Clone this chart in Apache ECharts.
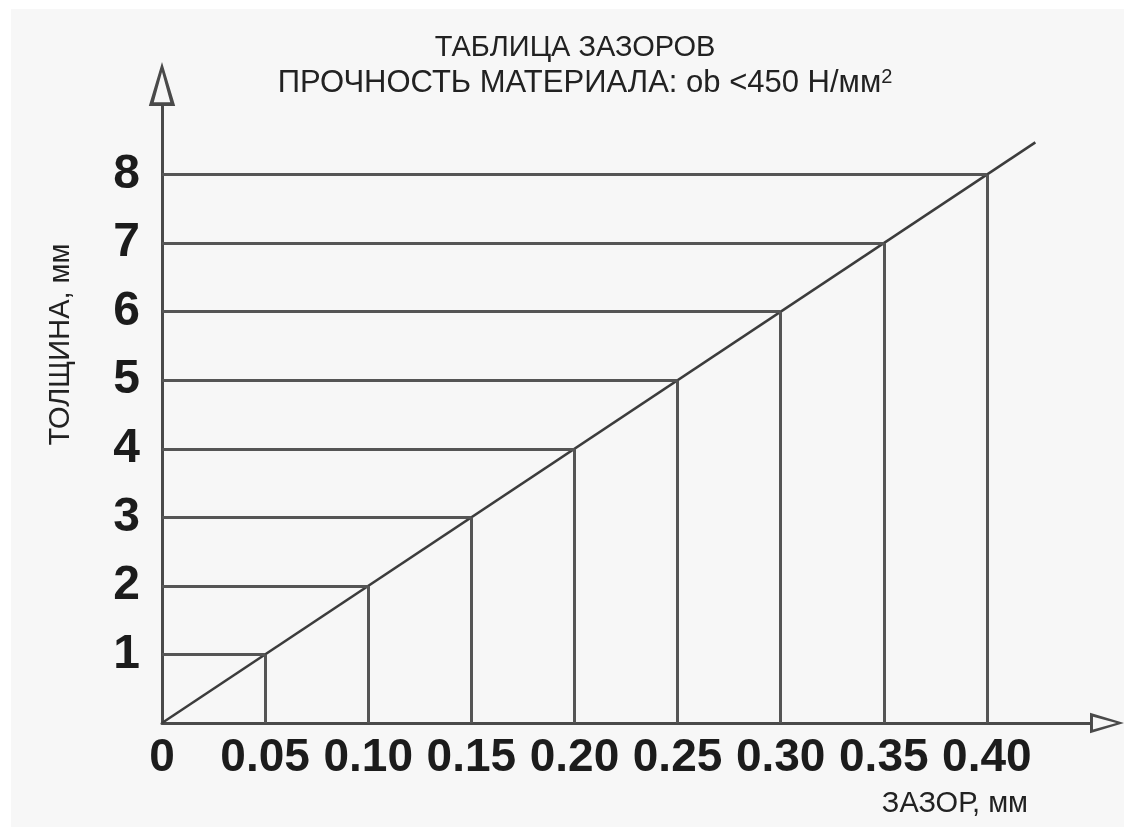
<!DOCTYPE html>
<html>
<head>
<meta charset="utf-8">
<script src="https://cdn.jsdelivr.net/npm/echarts@6/dist/echarts.min.js"></script>
<style>
  html, body { margin: 0; padding: 0; }
  body {
    background:
      linear-gradient(#fff, #fff) top left / 100% 9px no-repeat,
      linear-gradient(#fff, #fff) top left / 11px 100% no-repeat,
      #f7f7f7;
  }
  #clearance-chart { width: 1124px; height: 827px; }
</style>
</head>
<body>
<div id="clearance-chart"></div>
<script>
// зазор (мм) для каждой толщины листа
const gaps = [0.05, 0.10, 0.15, 0.20, 0.25, 0.30, 0.35, 0.40]
const thickness = [1, 2, 3, 4, 5, 6, 7, 8]
// диагональ идёт из нуля и чуть дальше последней точки
const lineStart = [0, 0]
const lineEnd = [0.4235, 8.47]
const xTicks = ['0', '0.05', '0.10', '0.15', '0.20', '0.25', '0.30', '0.35', '0.40']
const yTicks = [1, 2, 3, 4, 5, 6, 7, 8]

const arrow = 'path://M12,0 L24,40 L0,40 Z M12,9 L4.5,36.5 L19.5,36.5 Z'

const dropLines = []
gaps.forEach((g, i) => {
  const t = thickness[i]
  dropLines.push([{ coord: [0, t] }, { coord: [g, t] }])
  dropLines.push([{ coord: [g, 0] }, { coord: [g, t] }])
})

const tickFont = {
  fontFamily: '"Liberation Sans", Arial, sans-serif',
  fontWeight: 'bold',
  color: '#1c1c1c'
}

const option = {
  animation: false,
  title: [
    {
      text: 'ТАБЛИЦА ЗАЗОРОВ',
      left: 570,
      top: 28,
      textAlign: 'center',
      textStyle: { fontFamily: '"Liberation Sans", Arial', fontWeight: 'normal', fontSize: 29, color: '#222' }
    },
    {
      text: 'ПРОЧНОСТЬ МАТЕРИАЛА: ob <450 Н/мм{sup|2}',
      left: 580,
      top: 62,
      textAlign: 'center',
      textStyle: {
        fontFamily: '"Liberation Sans", Arial',
        fontWeight: 'normal',
        fontSize: 31,
        color: '#222',
        rich: {
          sup: { fontFamily: '"Liberation Sans", Arial', fontSize: 20, color: '#222', verticalAlign: 'top', lineHeight: 32 }
        }
      }
    }
  ],
  grid: {
    left: 162,
    right: 34,
    top: 106,
    bottom: 104
  },
  xAxis: {
    type: 'value',
    min: 0,
    max: 0.45,
    interval: 0.05,
    name: 'ЗАЗОР, мм',
    nameLocation: 'end',
    nameGap: -62,
    nameTextStyle: {
      fontFamily: '"Liberation Sans", Arial',
      fontSize: 29,
      color: '#222',
      align: 'right',
      verticalAlign: 'top',
      padding: [66, 0, 0, 0]
    },
    axisLine: {
      lineStyle: { color: '#4a4a4a', width: 3 },
      symbol: ['none', arrow],
      symbolSize: [24, 34],
      symbolOffset: [0, 17]
    },
    axisTick: { show: false },
    splitLine: { show: false },
    axisLabel: {
      ...tickFont,
      fontSize: 46,
      margin: 12,
      formatter: v => {
        const i = Math.round(v / 0.05)
        return v > 0.401 ? '' : xTicks[i]
      }
    }
  },
  yAxis: {
    type: 'value',
    min: 0,
    max: 9,
    interval: 1,
    name: 'ТОЛЩИНА, мм',
    nameLocation: 'middle',
    nameGap: 87,
    nameRotate: 90,
    nameTextStyle: {
      fontFamily: '"Liberation Sans", Arial',
      fontSize: 29,
      color: '#222',
      padding: [0, 0, 0, 140]
    },
    axisLine: {
      show: true,
      lineStyle: { color: '#4a4a4a', width: 3 },
      symbol: ['none', arrow],
      symbolSize: [27, 44],
      symbolOffset: [0, 22]
    },
    axisTick: { show: false },
    splitLine: { show: false },
    axisLabel: {
      ...tickFont,
      fontSize: 48,
      margin: 22,
      formatter: v => (yTicks.includes(v) ? String(v) : '')
    }
  },
  series: [
    {
      type: 'line',
      data: [lineStart, lineEnd],
      showSymbol: false,
      silent: true,
      lineStyle: { color: '#3c3c3c', width: 2.5 },
      markLine: {
        silent: true,
        symbol: 'none',
        label: { show: false },
        lineStyle: { color: '#555', width: 3, type: 'solid' },
        emphasis: { disabled: true },
        data: dropLines
      },
      z: 3
    }
  ]
}

const chart = echarts.init(document.getElementById('clearance-chart'), null, { renderer: 'canvas' })
chart.setOption(option)
</script>
</body>
</html>
